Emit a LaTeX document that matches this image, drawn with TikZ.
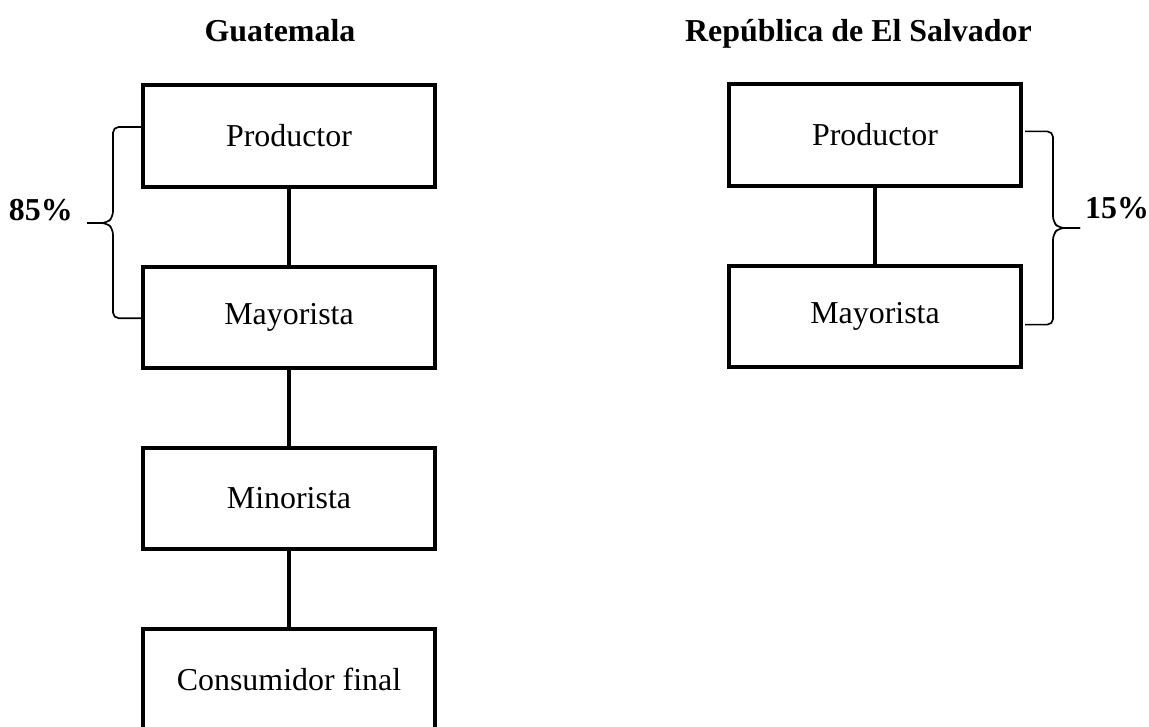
\documentclass[tikz,border=0pt]{standalone}
\usepackage{fontspec}
\setmainfont{Liberation Serif}
\usepackage{tikz}
\usetikzlibrary{positioning, calc}

\begin{document}
\begin{tikzpicture}[
    canal/.style={draw, line width=2.8pt, minimum width=7.3cm, minimum height=2.53cm,
      inner sep=0pt, outer sep=0pt, font=\fontsize{22.7}{27}\selectfont},
    enlace/.style={line width=2.6pt},
    llave/.style={line width=1.2pt, rounded corners=4pt},
    pais/.style={font=\fontsize{22.7}{27}\selectfont\bfseries, anchor=base},
    porcentaje/.style={font=\fontsize{22.7}{27}\selectfont\bfseries, inner sep=0pt},
    node distance=2cm
  ]
  \useasboundingbox (0,0) rectangle (28.725,18.15);

  % Guatemala
  \node[pais] (tituloG) at (7.0,17.1) {Guatemala};
  \node[canal] (prodG) at (7.225,14.75) {Productor};
  \node[canal, below=of prodG] (mayG) {Mayorista};
  \node[canal, below=of mayG] (minG) {Minorista};
  \node[canal, below=of minG] (consG) {Consumidor final};
  \draw[enlace] (prodG) -- (mayG);
  \draw[enlace] (mayG) -- (minG);
  \draw[enlace] (minG) -- (consG);

  % llave 85%
  \coordinate (puntaG) at (2.175,12.575);
  \draw[llave] ($(prodG.west)+(0,0.225)$) -| ($(puntaG)+(0.65,0.15)$)
    -- ($(puntaG)+(0.5,0)$) -- (puntaG);
  \draw[llave] ($(mayG.west)+(0,-0.025)$) -| ($(puntaG)+(0.65,-0.15)$)
    -- ($(puntaG)+(0.5,0)$) -- (puntaG);
  \node[porcentaje, anchor=base east] (pctG) at ($(puntaG)+(-0.35,0.06)$) {85\%};

  % Republica de El Salvador
  \node[pais] (tituloS) at (21.46,17.1) {República de El Salvador};
  \node[canal] (prodS) at (21.875,14.775) {Productor};
  \node[canal, below=of prodS] (mayS) {Mayorista};
  \draw[enlace] (prodS) -- (mayS);

  % llave 15%
  \coordinate (puntaS) at (27.0,12.45);
  \draw[llave] ($(prodS.east)+(0.1,0.09)$) -| ($(puntaS)+(-0.675,0.15)$)
    -- ($(puntaS)+(-0.525,0)$) -- (puntaS);
  \draw[llave] ($(mayS.east)+(0.1,-0.21)$) -| ($(puntaS)+(-0.675,-0.15)$)
    -- ($(puntaS)+(-0.525,0)$) -- (puntaS);
  \node[porcentaje, anchor=base west] (pctS) at ($(puntaS)+(0.12,0.24)$) {15\%};
\end{tikzpicture}
\end{document}
